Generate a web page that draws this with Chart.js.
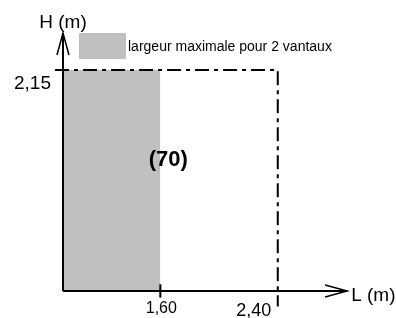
<!DOCTYPE html>
<html>
<head>
<meta charset="utf-8">
<script src="https://cdn.jsdelivr.net/npm/chart.js@4/dist/chart.umd.min.js"></script>
<style>
  body { margin: 0; background: #fff; }
  #c { display: block; }
</style>
</head>
<body>
<canvas id="c" width="396" height="318"></canvas>
<script>
// données du graphique
const zoneLabel = ['(70)'];
const legendLabels = ['largeur maximale pour 2 vantaux'];
const axisTitles = ['L (m)', 'H (m)'];
const xTickValues = [1.6, 2.4];
const xTickLabels = ['1,60', '2,40'];
const yTickValues = [2.15];
const yTickLabels = ['2,15'];
const zoneWidth = [1.6];      // largeur maxi pour 2 vantaux
const frameWidth = [2.4];     // largeur totale
const frameHeight = [2.15];   // hauteur maxi
const axisEnds = [3.54, 2.51];

const FONT = "'Liberation Sans', Arial, sans-serif";

// le schéma n'est pas à l'échelle : l'axe L est étiré après 1,60
class SchematicScale extends Chart.LinearScale {
    static id = 'schematic';
    static defaults = Chart.LinearScale.defaults;
    warp(v) {
        const k = this.options.knots;
        if (v <= k[0][0]) return k[0][1] + (v - k[0][0]);
        for (let i = 1; i < k.length; i++) {
            if (v <= k[i][0]) {
                const t = (v - k[i - 1][0]) / (k[i][0] - k[i - 1][0]);
                return k[i - 1][1] + t * (k[i][1] - k[i - 1][1]);
            }
        }
        const last = k[k.length - 1];
        return last[1] + (v - last[0]);
    }
    getPixelForValue(v) {
        return super.getPixelForValue(this.warp(v));
    }
}
Chart.register(SchematicScale);

const labelsPlugin = {
    id: 'labels',
    afterDatasetsDraw(chart) {
        const ctx = chart.ctx;
        const x = chart.scales.x, y = chart.scales.y;
        const x0 = x.getPixelForValue(0), y0 = y.getPixelForValue(0);
        const xEnd = x.getPixelForValue(axisEnds[0]);
        const yEnd = y.getPixelForValue(axisEnds[1]);
        ctx.save();
        ctx.strokeStyle = '#000';
        ctx.lineWidth = 1.5;
        // flèches ouvertes
        ctx.beginPath();
        ctx.moveTo(xEnd - 22, y0 - 6); ctx.lineTo(xEnd, y0); ctx.lineTo(xEnd - 22, y0 + 6);
        ctx.moveTo(x0 - 6, yEnd + 22); ctx.lineTo(x0, yEnd); ctx.lineTo(x0 + 6, yEnd + 22);
        ctx.stroke();

        ctx.fillStyle = '#000';
        ctx.textBaseline = 'middle';
        // titres des axes
        ctx.font = '19px ' + FONT;
        ctx.textAlign = 'left';
        ctx.fillText(axisTitles[0], xEnd + 4, y0 + 5);
        ctx.textAlign = 'center';
        ctx.fillText(axisTitles[1], x0, yEnd - 10);
        // graduations
        ctx.font = '16px ' + FONT;
        ctx.fillText(xTickLabels[0], x.getPixelForValue(xTickValues[0]) + 1, y0 + 18);
        ctx.font = '18px ' + FONT;
        ctx.fillText(xTickLabels[1], x.getPixelForValue(xTickValues[1]) - 24, y0 + 20);
        ctx.font = '19px ' + FONT;
        ctx.textAlign = 'right';
        ctx.fillText(yTickLabels[0], x0 - 12, y.getPixelForValue(yTickValues[0]) + 14);
        // repère de zone
        ctx.font = 'bold 22px ' + FONT;
        ctx.textAlign = 'center';
        ctx.fillText(zoneLabel[0], x.getPixelForValue(zoneWidth[0]) + 8, y.getPixelForValue(frameHeight[0]) + 90);
        // légende
        ctx.fillStyle = '#c0c0c0';
        ctx.fillRect(79, 33, 47, 26);
        ctx.fillStyle = '#000';
        ctx.font = '14px ' + FONT;
        ctx.textAlign = 'left';
        ctx.fillText(legendLabels[0], 128, 47);
        ctx.restore();
    }
};

const line = (data, extra) => Object.assign({
    data: data,
    showLine: true,
    borderColor: '#000',
    borderWidth: 2,
    pointRadius: 0,
    fill: false
}, extra);

new Chart(document.getElementById('c'), {
    type: 'scatter',
    data: {
        datasets: [
            line([{ x: 0, y: frameHeight[0] }, { x: zoneWidth[0], y: frameHeight[0] }],
                { label: legendLabels[0], borderWidth: 0, backgroundColor: '#c0c0c0', fill: 'origin', order: 5 }),
            line([{ x: -0.13, y: frameHeight[0] }, { x: frameWidth[0], y: frameHeight[0] }, { x: frameWidth[0], y: -0.15 }],
                { borderDash: [14, 5, 4, 5], order: 4 }),
            line([{ x: 0, y: 0 }, { x: axisEnds[0], y: 0 }], { order: 1 }),
            line([{ x: 0, y: 0 }, { x: 0, y: axisEnds[1] }], { order: 1 }),
            line([{ x: xTickValues[0], y: -0.065 }, { x: xTickValues[0], y: 0.065 }], { order: 1 })
        ]
    },
    options: {
        responsive: false,
        animation: false,
        layout: { padding: 0 },
        plugins: { legend: { display: false }, tooltip: { enabled: false } },
        scales: {
            x: {
                type: 'schematic', display: false, min: -1.035, max: 5.473,
                knots: [[0, 0], [1.6, 1.6], [2.4, 3.53]]
            },
            y: { type: 'linear', display: false, min: -0.263, max: 2.831 }
        }
    },
    plugins: [labelsPlugin]
});
</script>
</body>
</html>
